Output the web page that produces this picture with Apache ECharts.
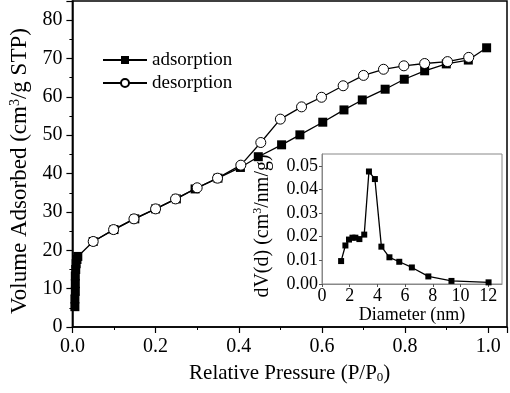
<!DOCTYPE html>
<html>
<head>
<meta charset="utf-8">
<script src="https://cdn.jsdelivr.net/npm/echarts@6/dist/echarts.min.js"></script>
<style>
  html, body { margin: 0; padding: 0; background: #fff; }
  #chart { width: 510px; height: 393px; }
</style>
</head>
<body>
<div id="chart"></div>
<script>
// N2 isotherm, adsorption branch (P/P0, cm3/g STP)
const adsPressure = [0.006, 0.006, 0.007, 0.007, 0.007, 0.008, 0.009, 0.011, 0.013,
  0.05, 0.1, 0.15, 0.2, 0.25, 0.295, 0.35, 0.404, 0.447, 0.503, 0.547, 0.602,
  0.653, 0.697, 0.752, 0.798, 0.847, 0.899, 0.952, 0.996];
const adsVolume = [5.3, 7.3, 9.3, 11.3, 13.3, 15.0, 16.5, 17.6, 18.4,
  22.3, 25.4, 28.2, 30.8, 33.4, 36.0, 38.8, 41.6, 44.4, 47.5, 50.1, 53.4,
  56.6, 59.2, 62.0, 64.6, 66.8, 68.6, 69.6, 72.8];

// desorption branch
const desPressure = [0.953, 0.902, 0.847, 0.797, 0.748, 0.7, 0.651, 0.599, 0.551,
  0.5, 0.453, 0.405, 0.349, 0.3, 0.248, 0.2, 0.148, 0.099, 0.05];
const desVolume = [70.3, 69.2, 68.7, 68.1, 67.2, 65.6, 62.9, 59.9, 57.4,
  54.2, 48.1, 42.2, 38.8, 36.3, 33.4, 30.8, 28.2, 25.4, 22.3];

// inset: pore size distribution
const poreDiameter = [1.38, 1.69, 1.95, 2.2, 2.41, 2.7, 3.05, 3.39, 3.82, 4.29,
  4.87, 5.58, 6.49, 7.68, 9.35, 12.03];
const poreVolume = [0.0097, 0.0163, 0.0188, 0.0196, 0.0196, 0.019, 0.0209, 0.0476,
  0.0444, 0.0158, 0.0113, 0.0094, 0.007, 0.0032, 0.0013, 0.0007];

const font = "'Liberation Serif', 'Times New Roman', serif";
const zip = (xs, ys) => xs.map((x, i) => [x, ys[i]]);

const chart = echarts.init(document.getElementById('chart'));

const option = {
  animation: false,
  textStyle: { fontFamily: font, color: '#000' },
  legend: {
    orient: 'vertical',
    left: 97,
    top: 45,
    itemWidth: 44,
    itemHeight: 10,
    itemGap: 3,
    textStyle: { fontFamily: font, fontSize: 19, color: '#000', lineHeight: 20 },
    data: ['adsorption', 'desorption']
  },
  grid: [
    { left: 63, top: 1, right: 3, bottom: 66, show: true, borderColor: '#000', borderWidth: 1.5 },
    { left: 322, top: 154, right: 8, bottom: 109, show: true, borderColor: '#888', borderWidth: 1,
      backgroundColor: '#fff' }
  ],
  xAxis: [
    {
      type: 'value', gridIndex: 0, min: 0, max: 1.045, interval: 0.2,
      name: 'Relative Pressure (P/P{sub|0})',
      nameLocation: 'middle', nameGap: 35,
      nameTextStyle: {
        fontFamily: font, fontSize: 21, color: '#000',
        rich: { sub: { fontSize: 13, verticalAlign: 'bottom', padding: [9, 0, 0, 0], fontFamily: font } }
      },
      axisLine: { lineStyle: { color: '#000', width: 1.5 } },
      axisTick: { inside: false, length: 6, lineStyle: { color: '#000', width: 1.2 } },
      minorTick: { show: true, splitNumber: 2, length: 3, lineStyle: { color: '#000', width: 1 } },
      axisLabel: { fontFamily: font, fontSize: 20, color: '#000', margin: 10, showMaxLabel: false,
        formatter: v => v.toFixed(1) },
      splitLine: { show: false }
    },
    {
      type: 'value', gridIndex: 1, min: 0, max: 13, interval: 2,
      name: 'Diameter (nm)',
      nameLocation: 'middle', nameGap: 22,
      nameTextStyle: { fontFamily: font, fontSize: 18, color: '#000' },
      axisLine: { lineStyle: { color: '#888', width: 1 } },
      axisTick: { length: 3, lineStyle: { color: '#555' } },
      axisLabel: { fontFamily: font, fontSize: 18, color: '#000', margin: 3, showMaxLabel: false },
      splitLine: { show: false }
    }
  ],
  yAxis: [
    {
      type: 'value', gridIndex: 0, min: 0, max: 85, interval: 10,
      name: 'Volume Adsorbed (cm{sup|3}/g STP)',
      nameLocation: 'middle', nameGap: 40, nameRotate: 90,
      nameTextStyle: {
        fontFamily: font, fontSize: 23, color: '#000', padding: [0, 14, 0, 0],
        rich: { sup: { fontSize: 14, verticalAlign: 'top', padding: [0, 0, 10, 0], fontFamily: font } }
      },
      axisLine: { lineStyle: { color: '#000', width: 1.5 } },
      axisTick: { length: 6, lineStyle: { color: '#000', width: 1.2 } },
      minorTick: { show: true, splitNumber: 2, length: 3, lineStyle: { color: '#000', width: 1 } },
      axisLabel: { fontFamily: font, fontSize: 20, color: '#000', margin: 10, showMaxLabel: false },
      splitLine: { show: false }
    },
    {
      type: 'value', gridIndex: 1, min: 0, max: 0.055, interval: 0.01,
      name: 'dV(d) (cm{sup|3}/nm/g)',
      nameLocation: 'middle', nameGap: 49, nameRotate: 90,
      nameTextStyle: {
        fontFamily: font, fontSize: 20, color: '#000', padding: [0, 14, 0, 0],
        rich: { sup: { fontSize: 12, verticalAlign: 'top', padding: [0, 0, 9, 0], fontFamily: font } }
      },
      axisLine: { lineStyle: { color: '#888', width: 1 } },
      axisTick: { length: 3, lineStyle: { color: '#555' } },
      axisLabel: { fontFamily: font, fontSize: 18, color: '#000', margin: 4, showMaxLabel: false,
        formatter: v => v.toFixed(2) },
      splitLine: { show: false }
    }
  ],
  series: [
    {
      name: 'adsorption', type: 'line', xAxisIndex: 0, yAxisIndex: 0,
      data: zip(adsPressure, adsVolume),
      symbol: 'rect', symbolSize: 9,
      lineStyle: { color: '#000', width: 1.3 },
      itemStyle: { color: '#000' },
      z: 2
    },
    {
      name: 'desorption', type: 'line', xAxisIndex: 0, yAxisIndex: 0,
      data: zip(desPressure, desVolume),
      symbol: 'circle', symbolSize: 10,
      lineStyle: { color: '#000', width: 1.3 },
      itemStyle: { color: '#fff', borderColor: '#000', borderWidth: 1 },
      z: 3
    },
    {
      name: 'psd', type: 'line', xAxisIndex: 1, yAxisIndex: 1,
      data: zip(poreDiameter, poreVolume),
      symbol: 'rect', symbolSize: 6,
      lineStyle: { color: '#000', width: 1.3 },
      itemStyle: { color: '#000' },
      z: 5
    }
  ]
};

chart.setOption(option);
</script>
</body>
</html>
